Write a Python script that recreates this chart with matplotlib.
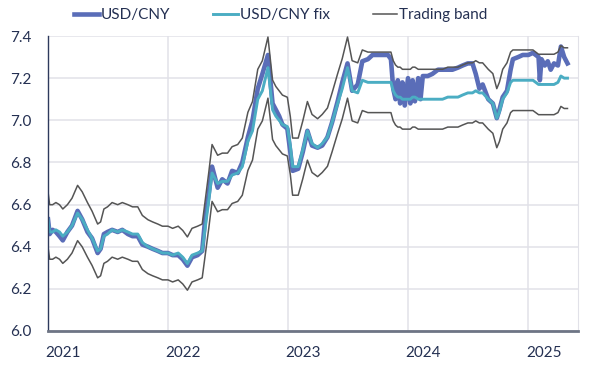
import pandas as pd
import matplotlib
matplotlib.use("Agg")
from matplotlib import pyplot as plt, dates as mdates, ticker

dates = [
    "2021-01-01", "2021-01-06", "2021-01-15", "2021-01-25", "2021-02-05", "2021-02-15",
    "2021-03-01", "2021-03-15", "2021-04-01", "2021-04-15", "2021-05-01", "2021-05-15",
    "2021-06-01", "2021-06-10", "2021-06-20", "2021-07-01", "2021-07-15", "2021-08-01",
    "2021-08-15", "2021-09-01", "2021-09-15", "2021-10-01", "2021-10-15", "2021-11-01",
    "2021-11-15", "2021-12-01", "2021-12-15",
    "2022-01-01", "2022-01-15", "2022-02-01", "2022-02-15", "2022-03-01", "2022-03-15",
    "2022-04-01", "2022-04-15", "2022-04-25", "2022-05-05", "2022-05-15", "2022-06-01",
    "2022-06-15", "2022-07-01", "2022-07-15", "2022-08-01", "2022-08-15", "2022-09-01",
    "2022-09-15", "2022-10-01", "2022-10-15", "2022-11-01", "2022-11-15", "2022-11-25",
    "2022-12-05", "2022-12-15", "2022-12-30",
    "2023-01-08", "2023-01-15", "2023-02-01", "2023-02-15", "2023-03-01", "2023-03-15",
    "2023-04-01", "2023-04-15", "2023-05-01", "2023-05-15", "2023-06-01", "2023-06-15",
    "2023-07-01", "2023-07-15", "2023-08-01", "2023-08-15", "2023-09-01", "2023-09-15",
    "2023-10-01", "2023-10-15", "2023-11-01", "2023-11-10", "2023-11-17", "2023-11-24",
    "2023-12-01", "2023-12-08", "2023-12-15", "2023-12-22",
    "2024-01-01", "2024-01-08", "2024-01-15", "2024-01-22", "2024-02-01", "2024-02-08",
    "2024-02-15", "2024-03-01", "2024-03-15", "2024-04-01", "2024-04-15", "2024-05-01",
    "2024-05-15", "2024-06-01", "2024-06-15", "2024-07-01", "2024-07-15", "2024-07-25",
    "2024-08-05", "2024-08-15", "2024-09-01", "2024-09-15", "2024-09-27", "2024-10-05",
    "2024-10-15", "2024-10-28", "2024-11-08", "2024-11-15", "2024-12-01", "2024-12-15",
    "2025-01-01", "2025-01-15", "2025-02-01", "2025-02-05", "2025-02-10", "2025-02-20",
    "2025-03-01", "2025-03-10", "2025-03-20", "2025-04-01", "2025-04-10", "2025-04-20",
    "2025-04-30",
]
usd_cny = [
    6.53, 6.46, 6.48, 6.47, 6.45, 6.43,
    6.47, 6.50, 6.57, 6.53, 6.47, 6.44,
    6.37, 6.39, 6.46, 6.47, 6.48, 6.47,
    6.48, 6.46, 6.45, 6.45, 6.41, 6.40,
    6.39, 6.38, 6.37,
    6.37, 6.36, 6.36, 6.34, 6.31, 6.35,
    6.36, 6.38, 6.55, 6.65, 6.78, 6.68,
    6.72, 6.70, 6.76, 6.75, 6.80, 6.92,
    7.00, 7.15, 7.22, 7.31, 7.08, 7.05,
    7.02, 6.98, 6.96,
    6.85, 6.76, 6.77, 6.85, 6.95, 6.88,
    6.87, 6.88, 6.92, 6.99, 7.09, 7.18,
    7.27, 7.14, 7.17, 7.28, 7.29, 7.31,
    7.31, 7.31, 7.31, 7.29, 7.15, 7.10,
    7.19, 7.08, 7.18, 7.07,
    7.20, 7.08, 7.19, 7.09, 7.20, 7.10,
    7.21, 7.21, 7.22, 7.24, 7.24, 7.24,
    7.24, 7.25, 7.26, 7.27, 7.27, 7.22,
    7.15, 7.17, 7.10, 7.08, 7.01, 7.05,
    7.11, 7.14, 7.24, 7.29, 7.30, 7.31,
    7.31, 7.32, 7.30, 7.19, 7.29, 7.26,
    7.28, 7.24, 7.27, 7.26, 7.35, 7.30,
    7.27,
]
usd_cny_fix = [
    6.53, 6.47, 6.47, 6.48, 6.47, 6.45,
    6.47, 6.50, 6.56, 6.53, 6.48, 6.44,
    6.38, 6.39, 6.45, 6.46, 6.48, 6.47,
    6.48, 6.47, 6.46, 6.46, 6.42, 6.40,
    6.39, 6.38, 6.37,
    6.37, 6.36, 6.37, 6.35, 6.32, 6.36,
    6.37, 6.38, 6.50, 6.62, 6.75, 6.70,
    6.71, 6.71, 6.74, 6.75, 6.78, 6.90,
    6.95, 7.10, 7.14, 7.25, 7.05, 7.02,
    7.00, 6.98, 6.97,
    6.88, 6.78, 6.78, 6.86, 6.95, 6.89,
    6.87, 6.89, 6.92, 6.99, 7.08, 7.15,
    7.25, 7.14, 7.13, 7.19, 7.18, 7.18,
    7.18, 7.18, 7.18, 7.18, 7.14, 7.12,
    7.11, 7.11, 7.10, 7.10,
    7.10, 7.10, 7.11, 7.11, 7.10, 7.10,
    7.10, 7.10, 7.10, 7.10, 7.10, 7.11,
    7.11, 7.11, 7.12, 7.13, 7.13, 7.14,
    7.13, 7.13, 7.10, 7.08, 7.01, 7.04,
    7.10, 7.13, 7.18, 7.19, 7.19, 7.19,
    7.19, 7.19, 7.17, 7.17, 7.17, 7.17,
    7.17, 7.17, 7.17, 7.18, 7.21, 7.20,
    7.20,
]
band_pct = 2.0  # trading band: fix +/- 2%
year_ticks = ["2021", "2022", "2023", "2024", "2025"]

df = pd.DataFrame({"spot": usd_cny, "fix": usd_cny_fix}, index=pd.to_datetime(dates))
df["upper"] = df["fix"] * (1 + band_pct / 100)
df["lower"] = df["fix"] * (1 - band_pct / 100)

navy = "#243052"
plt.rcParams["font.family"] = ["Lato", "DejaVu Sans"]
plt.rcParams["font.size"] = 11

fig = plt.figure(figsize=(5.9, 3.66), dpi=100)
ax = fig.add_axes([48 / 590, 1 - 331 / 366, 530 / 590, 295 / 366])

ax.plot(df.index, df["spot"], color="#5A6DB8", lw=3.3, label="USD/CNY")
ax.plot(df.index, df["fix"], color="#4BADC3", lw=2.1, label="USD/CNY fix")
ax.plot(df.index, df["upper"], color="#555555", lw=1.1, label="Trading band")
ax.plot(df.index, df["lower"], color="#555555", lw=1.1)

ax.set_ylim(6.0, 7.4)
ax.yaxis.set_major_locator(ticker.MultipleLocator(0.2))
ax.yaxis.set_major_formatter(ticker.FormatStrFormatter("%.1f"))
ax.set_xlim(pd.Timestamp("2021-01-01"), pd.Timestamp("2025-06-01"))

# gridlines at year start, labels shifted to the right like the original
ax.xaxis.set_major_locator(mdates.YearLocator())
ax.xaxis.set_major_formatter(ticker.NullFormatter())
label_pos = [mdates.date2num(pd.Timestamp(y + "-02-17")) for y in year_ticks]
ax.xaxis.set_minor_locator(ticker.FixedLocator(label_pos))
ax.xaxis.set_minor_formatter(ticker.FixedFormatter(year_ticks))
ax.tick_params(axis="x", which="both", length=0, pad=11, colors=navy, labelsize=11)
ax.tick_params(axis="y", length=0, pad=12, colors=navy, labelsize=11)

ax.grid(True, which="major", color="#E1E1E8", lw=1.1)
ax.set_axisbelow(True)
ax.spines["top"].set_visible(False)
ax.spines["right"].set_color("#E1E1E8")
ax.spines["left"].set_color("#2E3A5C")
ax.spines["left"].set_linewidth(1.0)
ax.spines["bottom"].set_color("#6E7585")
ax.spines["bottom"].set_linewidth(2.0)

fig.legend(loc="center", bbox_to_anchor=(281 / 590, 1 - 15 / 366), ncol=3,
           frameon=False, handlelength=1.6, handletextpad=0.15, columnspacing=2.8,
           labelcolor=navy, fontsize=11)

fig.savefig("out.png", dpi=100)
